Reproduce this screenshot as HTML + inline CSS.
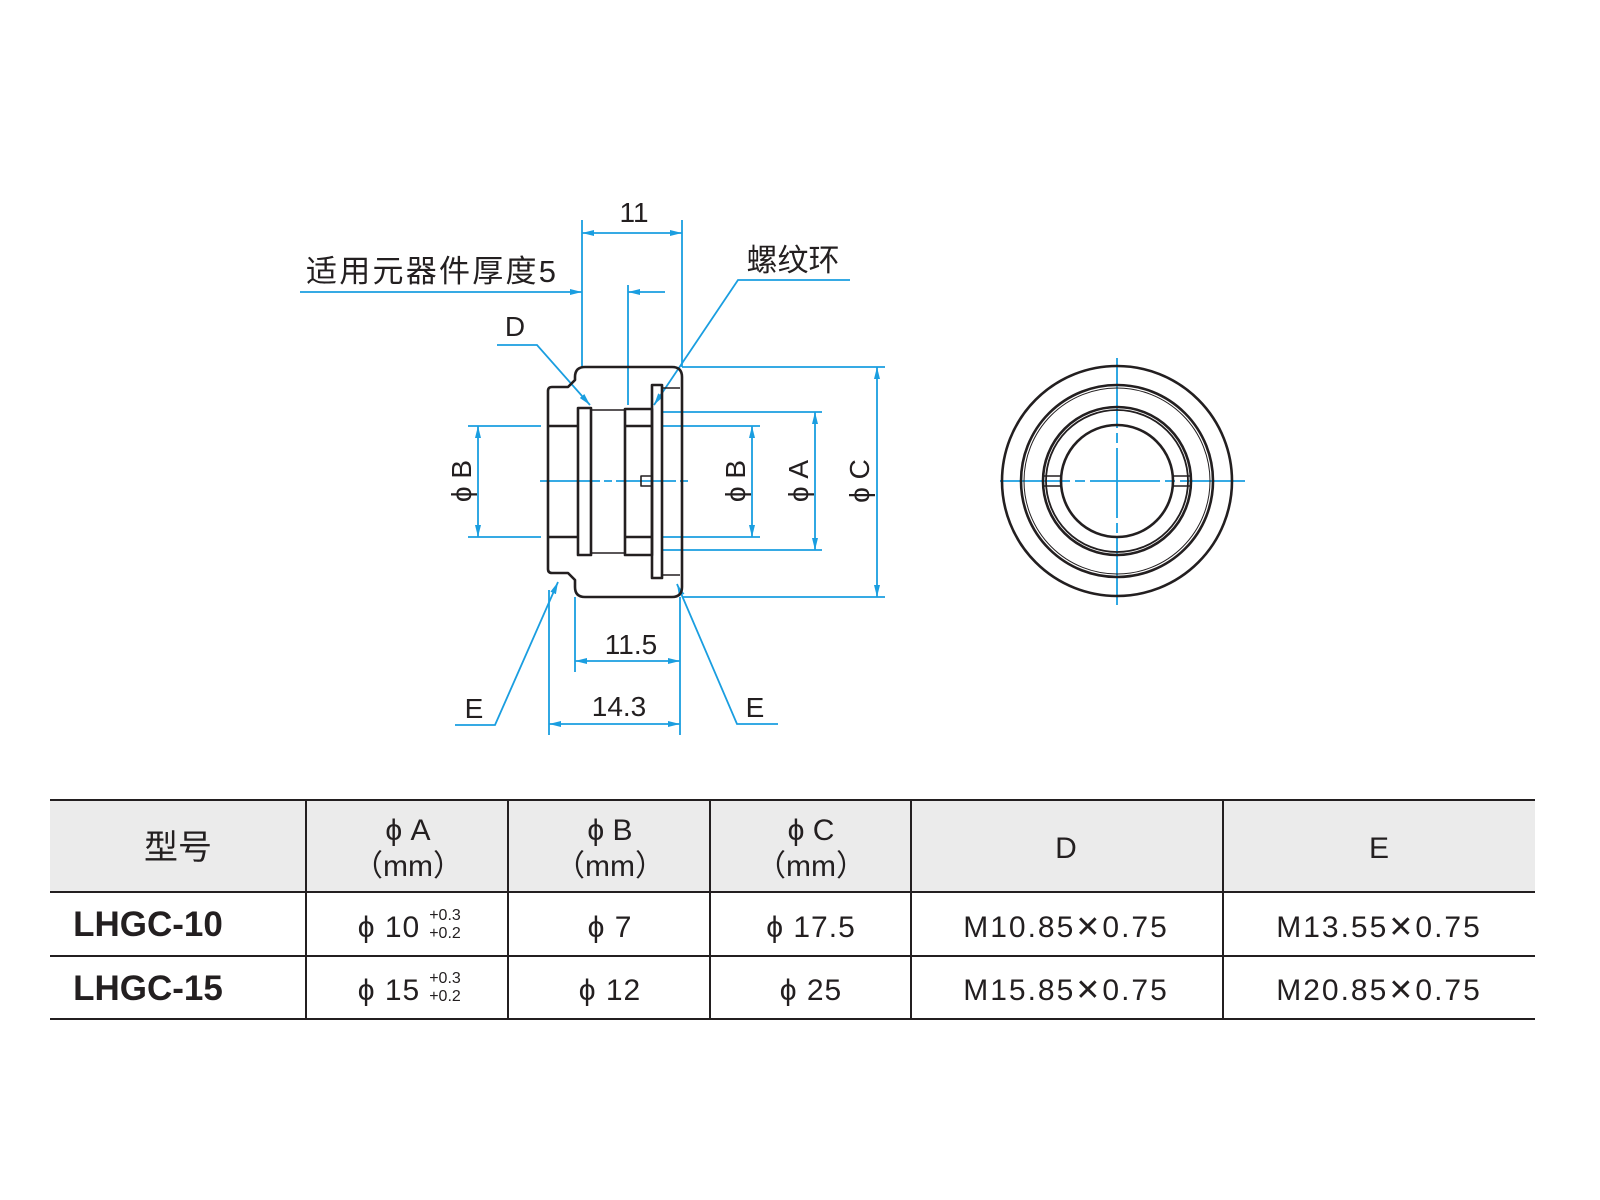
<!DOCTYPE html>
<html><head><meta charset="utf-8"><style>
html,body{margin:0;padding:0;background:#fff}
svg{display:block}
.t{font-family:"Liberation Sans","Noto Sans CJK SC",sans-serif;fill:#231f20}
</style></head><body>
<svg width="1600" height="1200" viewBox="0 0 1600 1200" xmlns="http://www.w3.org/2000/svg">
<defs>
<marker id="a" viewBox="0 0 12 6" refX="12" refY="3" markerWidth="12" markerHeight="6" orient="auto-start-reverse" markerUnits="userSpaceOnUse"><path d="M0,0 L12,3 L0,6 z" fill="#1a9ee0"/></marker>
</defs>
<g stroke="#1a9ee0" stroke-width="1.8" fill="none">
<line x1="582" y1="220" x2="582" y2="367"/>
<line x1="682" y1="220" x2="682" y2="367"/>
<line x1="582" y1="233" x2="682" y2="233" marker-start="url(#a)" marker-end="url(#a)"/>
<line x1="300" y1="292" x2="582" y2="292" marker-end="url(#a)"/>
<line x1="665" y1="292" x2="628" y2="292" marker-end="url(#a)"/>
<line x1="628" y1="285" x2="628" y2="405"/>
<polyline points="497,345 537,345 590,405" marker-end="url(#a)" />
<polyline points="850,280 738,280 654,405" marker-end="url(#a)"/>
<line x1="682" y1="367" x2="885" y2="367"/>
<line x1="682" y1="597" x2="885" y2="597"/>
<line x1="877" y1="367" x2="877" y2="597" marker-start="url(#a)" marker-end="url(#a)"/>
<line x1="662" y1="412" x2="822" y2="412"/>
<line x1="662" y1="550" x2="822" y2="550"/>
<line x1="815" y1="412" x2="815" y2="550" marker-start="url(#a)" marker-end="url(#a)"/>
<line x1="662" y1="426" x2="760" y2="426"/>
<line x1="662" y1="537" x2="760" y2="537"/>
<line x1="752" y1="426" x2="752" y2="537" marker-start="url(#a)" marker-end="url(#a)"/>
<line x1="468" y1="426" x2="541" y2="426"/>
<line x1="468" y1="537" x2="541" y2="537"/>
<line x1="478" y1="426" x2="478" y2="537" marker-start="url(#a)" marker-end="url(#a)"/>
<line x1="540" y1="481" x2="690" y2="481" stroke-dasharray="60,4,8,4"/>
<line x1="575" y1="597" x2="575" y2="672"/>
<line x1="680" y1="597" x2="680" y2="735"/>
<line x1="549" y1="590" x2="549" y2="735"/>
<line x1="575" y1="661" x2="680" y2="661" marker-start="url(#a)" marker-end="url(#a)"/>
<line x1="549" y1="724" x2="680" y2="724" marker-start="url(#a)" marker-end="url(#a)"/>
<polyline points="455,725 495,725 558,582" marker-end="url(#a)"/>
<polyline points="778,724 737,724 677,584" marker-end="url(#a)"/>
<line x1="1000" y1="481" x2="1245" y2="481" stroke-dasharray="70,5,10,5"/>
<line x1="1117" y1="358" x2="1117" y2="605" stroke-dasharray="70,5,10,5"/>
</g>
<g stroke="#231f20" stroke-width="2.6" fill="none" stroke-linejoin="round">
<path d="M585,367 L672,367 Q682,367 682,377 L682,587 Q682,597 672,597 L585,597 Q575,597 575,587 L575,580 L568,573 L552,573 Q548,573 548,569 L548,391 Q548,387 552,387 L568,387 L575,380 L575,377 Q575,367 585,367 Z"/>
<line x1="548" y1="426" x2="578" y2="426"/>
<line x1="548" y1="537" x2="578" y2="537"/>
<rect x="578" y="408" width="13" height="147"/>
<line x1="591" y1="410" x2="625" y2="410" stroke-width="1.4"/>
<line x1="591" y1="553" x2="625" y2="553" stroke-width="1.4"/>
<rect x="625" y="409" width="27" height="146"/>
<line x1="625" y1="426" x2="652" y2="426"/>
<line x1="625" y1="537" x2="652" y2="537"/>
<rect x="652" y="385" width="10" height="193"/>
<line x1="662" y1="388" x2="680" y2="388" stroke-width="1.6"/>
<line x1="662" y1="575" x2="680" y2="575" stroke-width="1.6"/>
<rect x="641" y="476" width="11" height="10" stroke-width="1.6"/>
</g>
<g stroke="#231f20" fill="none">
<circle cx="1117" cy="481" r="115" stroke-width="2.6"/>
<circle cx="1117" cy="481" r="96" stroke-width="2.6"/>
<circle cx="1117" cy="481" r="93" stroke-width="1"/>
<circle cx="1117" cy="481" r="74" stroke-width="2.6"/>
<circle cx="1117" cy="481" r="71" stroke-width="1.8"/>
<circle cx="1117" cy="481" r="56" stroke-width="2.6"/>
<line x1="1044" y1="476" x2="1062" y2="476" stroke-width="1.6"/>
<line x1="1044" y1="486" x2="1062" y2="486" stroke-width="1.6"/>
<line x1="1172" y1="476" x2="1190" y2="476" stroke-width="1.6"/>
<line x1="1172" y1="486" x2="1190" y2="486" stroke-width="1.6"/>
</g>
<g class="t" font-size="28">
<text x="634" y="222" text-anchor="middle">11</text>
<text x="306" y="282" font-size="31" textLength="250">适用元器件厚度5</text>
<text x="793" y="271" text-anchor="middle" font-size="31">螺纹环</text>
<text x="515" y="336" text-anchor="middle">D</text>
<text x="631" y="654" text-anchor="middle">11.5</text>
<text x="619" y="716" text-anchor="middle">14.3</text>
<text x="474" y="718" text-anchor="middle">E</text>
<text x="755" y="717" text-anchor="middle">E</text>
<text transform="translate(471,481) rotate(-90)" text-anchor="middle">ϕ B</text>
<text transform="translate(745,481) rotate(-90)" text-anchor="middle">ϕ B</text>
<text transform="translate(808,481) rotate(-90)" text-anchor="middle">ϕ A</text>
<text transform="translate(869,481) rotate(-90)" text-anchor="middle">ϕ C</text>
</g>
<rect x="50" y="800" width="1485" height="92" fill="#ebebeb"/>
<g stroke="#231f20" stroke-width="2">
<line x1="50" y1="800" x2="1535" y2="800"/>
<line x1="50" y1="892" x2="1535" y2="892"/>
<line x1="50" y1="956" x2="1535" y2="956"/>
<line x1="50" y1="1019" x2="1535" y2="1019"/>
<line x1="306" y1="800" x2="306" y2="1019"/>
<line x1="508" y1="800" x2="508" y2="1019"/>
<line x1="710" y1="800" x2="710" y2="1019"/>
<line x1="911" y1="800" x2="911" y2="1019"/>
<line x1="1223" y1="800" x2="1223" y2="1019"/>
</g>
<g class="t" font-size="30" text-anchor="middle">
<text x="178" y="859" font-size="34">型号</text>
<text x="408" y="840">ϕ A</text><text x="408" y="876">（mm）</text>
<text x="610" y="840">ϕ B</text><text x="610" y="876">（mm）</text>
<text x="811" y="840">ϕ C</text><text x="811" y="876">（mm）</text>
<text x="1066" y="858">D</text>
<text x="1379" y="858">E</text>
<text x="148" y="936" font-weight="bold" font-size="35">LHGC-10</text>
<text x="148" y="1000" font-weight="bold" font-size="35">LHGC-15</text>
<text x="389" y="937" letter-spacing="1">ϕ 10</text><text x="445" y="920" font-size="16">+0.3</text><text x="445" y="938" font-size="16">+0.2</text>
<text x="389" y="1000" letter-spacing="1">ϕ 15</text><text x="445" y="983" font-size="16">+0.3</text><text x="445" y="1001" font-size="16">+0.2</text>
<text x="610" y="937" letter-spacing="1">ϕ 7</text>
<text x="610" y="1000" letter-spacing="1">ϕ 12</text>
<text x="811" y="937" letter-spacing="1">ϕ 17.5</text>
<text x="811" y="1000" letter-spacing="1">ϕ 25</text>
<text x="1066" y="937" letter-spacing="2">M10.85✕0.75</text>
<text x="1066" y="1000" letter-spacing="2">M15.85✕0.75</text>
<text x="1379" y="937" letter-spacing="2">M13.55✕0.75</text>
<text x="1379" y="1000" letter-spacing="2">M20.85✕0.75</text>
</g>
</svg>
</body></html>
